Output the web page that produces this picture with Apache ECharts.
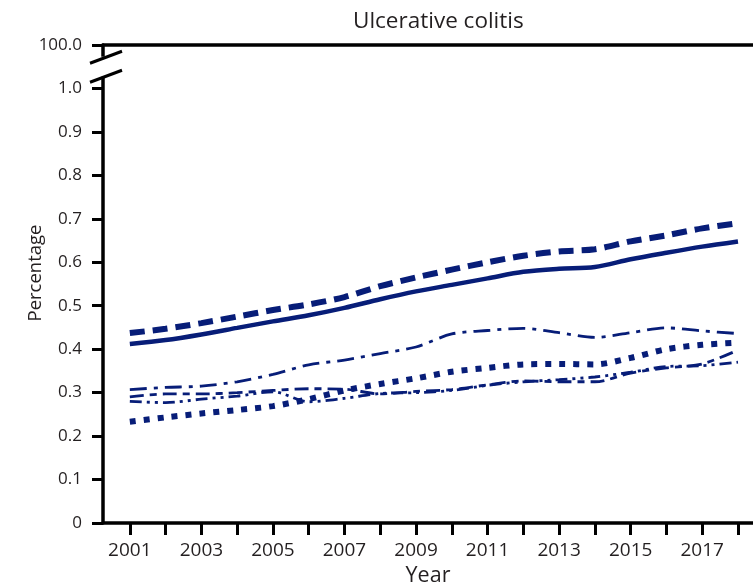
<!DOCTYPE html>
<html>
<head>
<meta charset="utf-8">
<script src="https://cdn.jsdelivr.net/npm/echarts@6/dist/echarts.min.js"></script>
<style>
html,body{margin:0;padding:0;background:#fff;}
#chart{width:753px;height:585px;}
</style>
</head>
<body>
<div id="chart"></div>
<script>
// ---- data ----
const years = [2001,2002,2003,2004,2005,2006,2007,2008,2009,2010,2011,2012,2013,2014,2015,2016,2017,2018];
const xTickYears = [2001,2002,2003,2004,2005,2006,2007,2008,2009,2010,2011,2012,2013,2014,2015,2016,2017,2018];
const xLabelYears = [2001,2003,2005,2007,2009,2011,2013,2015,2017];
const yTickValues = [0,0.1,0.2,0.3,0.4,0.5,0.6,0.7,0.8,0.9,1.0,1.1];
const topLabel = '100.0';

const seriesDashedThick = [0.437,0.447,0.460,0.475,0.490,0.503,0.520,0.545,0.565,0.583,0.600,0.615,0.625,0.630,0.648,0.662,0.678,0.690];
const seriesSolid       = [0.412,0.421,0.434,0.449,0.464,0.478,0.495,0.515,0.533,0.548,0.563,0.578,0.585,0.589,0.607,0.622,0.636,0.648];
const seriesDashDot     = [0.307,0.312,0.315,0.325,0.342,0.364,0.375,0.390,0.405,0.435,0.443,0.448,0.438,0.427,0.438,0.449,0.442,0.436];
const seriesDotted      = [0.233,0.243,0.252,0.260,0.269,0.285,0.305,0.320,0.333,0.348,0.357,0.365,0.366,0.365,0.380,0.400,0.410,0.415];
const seriesLongShort   = [0.290,0.297,0.297,0.300,0.305,0.309,0.308,0.297,0.303,0.307,0.318,0.327,0.325,0.325,0.345,0.357,0.366,0.398];
const seriesDashDotDot  = [0.280,0.277,0.285,0.292,0.302,0.279,0.287,0.298,0.300,0.305,0.317,0.325,0.330,0.336,0.347,0.360,0.362,0.370];

const X_MIN = 2000.25, X_MAX = 2018.42;
const NAVY = '#071d78';
const TXT = '#231f20';
const FONT = 'Open Sans';

function pairs(vals){ return years.map((y,i)=>[y, vals[i]]); }

function line(name, vals, width, type){
  return {
    name, type:'line', data: pairs(vals), showSymbol:false, symbol:'none',
    smooth:0.3, lineStyle:{color:NAVY, width, type, cap:'butt'},
    itemStyle:{color:NAVY}, silent:true, animation:false
  };
}

const chart = echarts.init(document.getElementById('chart'), null, {renderer:'canvas'});
chart.setOption({
  animation:false,
  backgroundColor:'#fff',
  title:{text:'Ulcerative colitis', left:348, top:5,
    textStyle:{fontFamily:FONT, fontSize:22.5, fontWeight:'normal', color:TXT}},
  grid:{left:103, right:0, top:45, bottom:62, containLabel:false, outerBoundsMode:'none'},
  xAxis:[{
    type:'value', min:X_MIN, max:X_MAX,
    name:'Year', nameLocation:'middle', nameGap:42, nameMoveOverlap:false,
    nameTextStyle:{fontFamily:FONT, fontSize:21.5, color:TXT},
    axisLine:{show:true, onZero:false, lineStyle:{color:'#000', width:3.5}},
    axisTick:{show:true, length:12, lineStyle:{color:'#000', width:3}, customValues:xTickYears},
    axisLabel:{fontFamily:FONT, fontSize:19, color:TXT, margin:18, customValues:xLabelYears,
      formatter:v=>String(Math.round(v))},
    splitLine:{show:false}
  },{
    type:'value', position:'top', min:X_MIN, max:X_MAX,
    axisLine:{show:true, onZero:false, lineStyle:{color:'#000', width:3.5}},
    axisTick:{show:false}, axisLabel:{show:false}, splitLine:{show:false}
  }],
  yAxis:{
    type:'value', min:0, max:1.1,
    name:'Percentage', nameLocation:'middle', nameGap:58, nameRotate:90, nameMoveOverlap:false,
    nameTextStyle:{fontFamily:FONT, fontSize:18.5, color:TXT, padding:[0,0,0,22]},
    axisLine:{show:true, onZero:false, lineStyle:{color:'#000', width:3.5}},
    axisTick:{show:true, length:11, lineStyle:{color:'#000', width:3}, customValues:yTickValues},
    axisLabel:{fontFamily:FONT, fontSize:17, color:TXT, margin:21, customValues:yTickValues,
      formatter:v=> v>1.05 ? topLabel : (v===0 ? '0' : v.toFixed(1))},
    splitLine:{show:false}
  },
  series:[
    line('dashedThick', seriesDashedThick, 6, [15,8]),
    line('solid', seriesSolid, 4.5, 'solid'),
    line('dashDot', seriesDashDot, 2.8, [17,7,4,7]),
    line('dotted', seriesDotted, 6, [6,8]),
    line('longShort', seriesLongShort, 2.8, [14,6,7,6]),
    line('dashDotDot', seriesDashDotDot, 2.8, [12,5,3,5,3,5])
  ]
});

// axis break decoration (between 1.0 and 100.0)
const ax = chart.convertToPixel({xAxisIndex:0}, X_MIN);
const yc = chart.convertToPixel({yAxisIndex:0}, 1.05);
chart.setOption({
  graphic:[
    {type:'rect', z:100, shape:{x:ax-4, y:yc-10, width:8, height:20}, style:{fill:'#fff'}},
    {type:'line', z:101, shape:{x1:ax-13, y1:yc-3.5, x2:ax+19, y2:yc-15.5}, style:{stroke:'#000', lineWidth:3}},
    {type:'line', z:101, shape:{x1:ax-13, y1:yc+15.5, x2:ax+19, y2:yc+3.5}, style:{stroke:'#000', lineWidth:3}}
  ]
});
</script>
</body>
</html>
